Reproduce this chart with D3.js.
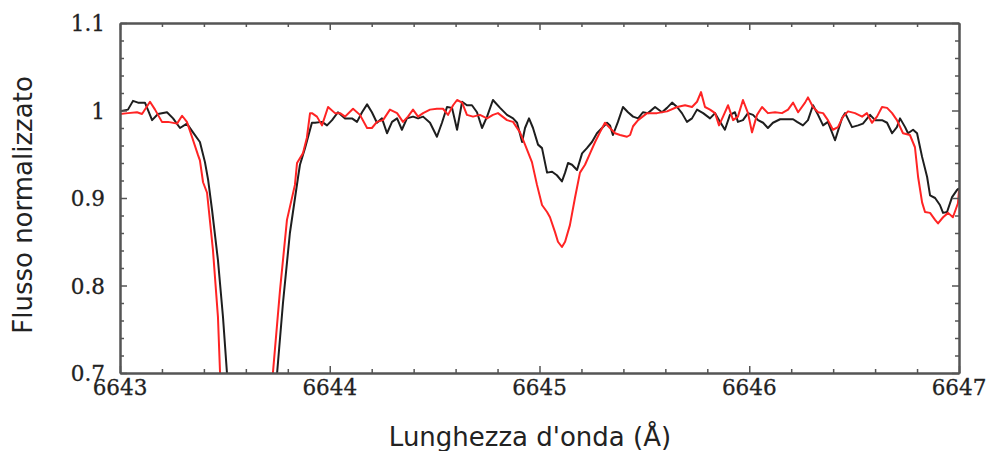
<!DOCTYPE html>
<html>
<head>
<meta charset="utf-8">
<script src="https://cdn.jsdelivr.net/npm/d3@7"></script>
<style>
  body { margin: 0; background: #fff; }
  svg { display: block; }
</style>
</head>
<body>
<svg id="chart" width="987" height="451"></svg>
<script>
// Normalised spectra around 6643-6647 Å: comparison spectrum (black) and target (red)
const blackWave = [
  6643.000,6643.038,6643.062,6643.086,6643.119,6643.153,6643.181,6643.224,6643.253,6643.286,
  6643.319,6643.348,6643.381,6643.405,6643.420,6643.439,6643.467,6643.491,6643.510,6643.540,
  6643.630,6643.720,6643.749,6643.777,6643.810,6643.849,6643.858,6643.882,6643.915,6643.930,
  6643.963,6643.987,6644.011,6644.039,6644.073,6644.106,6644.130,6644.154,6644.178,6644.201,
  6644.225,6644.249,6644.273,6644.297,6644.321,6644.344,6644.368,6644.397,6644.421,6644.445,
  6644.478,6644.511,6644.535,6644.559,6644.583,6644.607,6644.631,6644.654,6644.678,6644.702,
  6644.726,6644.750,6644.778,6644.812,6644.845,6644.874,6644.893,6644.917,6644.931,6644.950,
  6644.969,6644.993,6645.012,6645.036,6645.060,6645.083,6645.107,6645.122,6645.136,6645.155,
  6645.179,6645.203,6645.226,6645.250,6645.274,6645.298,6645.322,6645.336,6645.350,6645.374,
  6645.398,6645.422,6645.446,6645.470,6645.493,6645.517,6645.551,6645.584,6645.608,6645.632,
  6645.656,6645.679,6645.703,6645.727,6645.751,6645.780,6645.813,6645.837,6645.861,6645.884,
  6645.908,6645.932,6645.946,6645.970,6645.994,6646.018,6646.042,6646.066,6646.089,6646.113,
  6646.147,6646.180,6646.209,6646.228,6646.256,6646.280,6646.304,6646.328,6646.352,6646.375,
  6646.409,6646.442,6646.457,6646.490,6646.519,6646.542,6646.576,6646.600,6646.633,6646.657,
  6646.681,6646.704,6646.719,6646.743,6646.757,6646.781,6646.800,6646.824,6646.848,6646.862,
  6646.886,6646.909,6646.924,6646.943,6646.967,6646.990,6647.000
];
const blackFlux = [
  0.999,1.001,1.011,1.009,1.009,0.989,0.996,0.998,0.991,0.980,
  0.985,0.975,0.964,0.941,0.921,0.886,0.829,0.764,0.700,0.600,
  0.500,0.600,0.700,0.780,0.860,0.924,0.938,0.957,0.986,0.986,
  0.987,0.983,0.989,0.998,0.991,0.991,0.987,0.998,1.007,0.998,
  0.986,0.991,0.974,0.987,0.991,0.978,0.991,0.993,0.991,0.993,
  0.986,0.970,0.986,1.004,1.003,0.978,1.010,1.006,1.006,0.998,
  0.980,0.993,1.012,1.003,0.995,0.991,0.986,0.964,0.980,0.991,
  0.980,0.961,0.957,0.929,0.930,0.926,0.919,0.929,0.940,0.938,
  0.932,0.951,0.957,0.964,0.974,0.980,0.986,0.983,0.972,0.987,
  1.004,0.998,0.993,0.991,0.998,0.997,1.004,0.998,1.003,1.009,
  1.004,0.997,0.987,0.991,1.001,0.997,0.991,0.997,0.987,0.978,
  0.995,0.998,0.987,0.989,0.997,0.995,0.989,0.986,0.980,0.986,
  0.990,0.990,0.990,0.987,0.983,0.989,1.006,0.995,0.983,0.987,
  0.966,0.991,0.997,0.981,0.983,0.985,0.995,0.989,0.989,0.986,
  0.974,0.981,0.991,0.981,0.974,0.978,0.974,0.947,0.924,0.903,
  0.900,0.892,0.883,0.884,0.901,0.909,0.911
];
const redWave = [
  6643.000,6643.038,6643.081,6643.105,6643.143,6643.167,6643.200,6643.229,6643.272,6643.296,
  6643.319,6643.343,6643.372,6643.381,6643.396,6643.415,6643.443,6643.467,6643.477,6643.500,
  6643.600,6643.700,6643.729,6643.763,6643.796,6643.834,6643.844,6643.872,6643.891,6643.906,
  6643.915,6643.939,6643.963,6643.992,6644.025,6644.049,6644.073,6644.111,6644.144,6644.178,
  6644.201,6644.225,6644.254,6644.287,6644.321,6644.349,6644.373,6644.397,6644.421,6644.445,
  6644.478,6644.511,6644.540,6644.564,6644.588,6644.607,6644.631,6644.654,6644.683,6644.716,
  6644.750,6644.778,6644.802,6644.845,6644.874,6644.907,6644.931,6644.964,6644.988,6645.012,
  6645.036,6645.050,6645.074,6645.088,6645.107,6645.122,6645.145,6645.169,6645.193,6645.217,
  6645.241,6645.265,6645.288,6645.312,6645.336,6645.360,6645.384,6645.417,6645.432,6645.446,
  6645.470,6645.513,6645.560,6645.608,6645.656,6645.694,6645.727,6645.751,6645.770,6645.789,
  6645.813,6645.837,6645.856,6645.875,6645.899,6645.923,6645.946,6645.970,6645.994,6646.013,
  6646.037,6646.061,6646.089,6646.123,6646.156,6646.185,6646.209,6646.233,6646.266,6646.280,
  6646.304,6646.328,6646.352,6646.375,6646.399,6646.423,6646.447,6646.471,6646.504,6646.538,
  6646.561,6646.585,6646.609,6646.633,6646.657,6646.681,6646.704,6646.733,6646.766,6646.790,
  6646.805,6646.824,6646.838,6646.862,6646.886,6646.900,6646.924,6646.948,6646.971,6646.995,
  6647.000
];
const redFlux = [
  0.996,0.997,0.998,0.996,1.010,1.001,0.987,0.987,0.985,0.994,
  0.987,0.970,0.949,0.943,0.918,0.906,0.841,0.764,0.700,0.620,
  0.500,0.620,0.700,0.795,0.875,0.915,0.940,0.951,0.969,0.997,
  0.997,0.993,0.983,1.004,0.997,0.997,0.993,1.002,0.995,0.980,
  0.980,0.987,0.989,1.001,0.997,0.987,0.993,1.001,0.993,0.997,
  1.001,1.002,1.002,0.995,1.006,1.012,1.009,0.995,0.993,0.995,
  0.991,0.995,0.997,0.989,0.987,0.975,0.961,0.941,0.915,0.892,
  0.884,0.878,0.861,0.850,0.844,0.850,0.869,0.900,0.929,0.938,
  0.951,0.964,0.975,0.986,0.980,0.974,0.972,0.970,0.972,0.982,
  0.989,0.997,0.997,0.999,1.004,1.006,1.004,1.010,1.021,1.004,
  1.001,0.997,0.983,0.993,1.006,0.989,0.993,1.012,0.997,0.975,
  0.995,1.004,0.997,0.998,0.997,1.001,1.009,0.998,1.009,1.015,
  1.004,0.998,0.997,0.989,0.978,0.981,0.993,0.999,0.997,0.993,
  0.997,0.986,0.993,1.004,1.003,0.997,0.989,0.974,0.972,0.958,
  0.924,0.895,0.884,0.883,0.875,0.871,0.878,0.883,0.878,0.894,
  0.909
];

const xMajorTicks = [6643, 6644, 6645, 6646, 6647];
const xMinorTicks = [6643.2, 6643.4, 6643.6, 6643.8, 6644.2, 6644.4, 6644.6, 6644.8,
                     6645.2, 6645.4, 6645.6, 6645.8, 6646.2, 6646.4, 6646.6, 6646.8];
const yMajorTicks = [0.7, 0.8, 0.9, 1.0, 1.1];
const yMinorTicks = [0.72, 0.74, 0.76, 0.78, 0.82, 0.84, 0.86, 0.88, 0.92, 0.94, 0.96, 0.98,
                     1.02, 1.04, 1.06, 1.08];
const yTickLabels = ["0.7", "0.8", "0.9", "1", "1.1"];
const xTitle = "Lunghezza d'onda (Å)";
const yTitle = "Flusso normalizzato";

const margin = { left: 120, right: 28, top: 23, bottom: 78 };
const W = 987, H = 451;
const iw = W - margin.left - margin.right;
const ih = H - margin.top - margin.bottom;

const svg = d3.select("#chart");
const x = d3.scaleLinear().domain([6643, 6647]).range([0, iw]);
const y = d3.scaleLinear().domain([0.7, 1.1]).range([ih, 0]);

const g = svg.append("g").attr("transform", `translate(${margin.left},${margin.top})`);

g.append("clipPath").attr("id", "plotClip")
  .append("rect").attr("x", 0).attr("y", 0).attr("width", iw).attr("height", ih);

const line = d3.line().x(d => x(d[0])).y(d => y(d[1]));
const black = blackWave.map((w, i) => [w, blackFlux[i]]);
const red = redWave.map((w, i) => [w, redFlux[i]]);

const lines = g.append("g").attr("clip-path", "url(#plotClip)");
lines.append("path").datum(black).attr("d", line)
  .attr("fill", "none").attr("stroke", "#1e1e1e").attr("stroke-width", 2)
  .attr("stroke-linejoin", "round");
lines.append("path").datum(red).attr("d", line)
  .attr("fill", "none").attr("stroke", "#ff2424").attr("stroke-width", 2)
  .attr("stroke-linejoin", "round");

// Frame axes with inward ticks on all four sides
const axisColor = "#555";
function styleAxis(sel) {
  sel.select(".domain").attr("stroke", axisColor).attr("stroke-width", 2);
  sel.selectAll(".tick line").attr("stroke", axisColor).attr("stroke-width", 1.5);
  sel.selectAll(".tick text").remove();
}
function frameAxis(axisFn, scale, ticks, size, transform) {
  const a = g.append("g").attr("transform", transform)
    .call(axisFn(scale).tickValues(ticks).tickSizeInner(-size).tickSizeOuter(0));
  styleAxis(a);
  return a;
}
frameAxis(d3.axisBottom, x, xMajorTicks, 7, `translate(0,${ih})`);
frameAxis(d3.axisBottom, x, xMinorTicks, 4, `translate(0,${ih})`);
frameAxis(d3.axisTop, x, xMajorTicks, 7, `translate(0,0)`);
frameAxis(d3.axisTop, x, xMinorTicks, 4, `translate(0,0)`);
frameAxis(d3.axisLeft, y, yMajorTicks, 7, `translate(0,0)`);
frameAxis(d3.axisLeft, y, yMinorTicks, 4, `translate(0,0)`);
frameAxis(d3.axisRight, y, yMajorTicks, 7, `translate(${iw},0)`);
frameAxis(d3.axisRight, y, yMinorTicks, 4, `translate(${iw},0)`);

// Tick labels
const tickFont = "'DejaVu Serif', serif";
g.append("g").selectAll("text").data(xMajorTicks).join("text")
  .attr("x", d => x(d)).attr("y", ih + 22)
  .attr("text-anchor", "middle")
  .attr("font-family", tickFont).attr("font-size", 21.5).attr("fill", "#222")
  .attr("stroke", "#222").attr("stroke-width", 0.3)
  .text(d => d);
g.append("g").selectAll("text").data(yMajorTicks).join("text")
  .attr("x", -15).attr("y", d => y(d)).attr("dy", "0.38em")
  .attr("text-anchor", "end")
  .attr("font-family", tickFont).attr("font-size", 21.5).attr("fill", "#222")
  .attr("stroke", "#222").attr("stroke-width", 0.3)
  .text((d, i) => yTickLabels[i]);

// Axis titles
svg.append("text")
  .attr("x", 530).attr("y", 446)
  .attr("text-anchor", "middle")
  .attr("font-family", "'DejaVu Sans', sans-serif").attr("font-size", 26).attr("fill", "#222")
  .text(xTitle);
svg.append("text")
  .attr("transform", `translate(32,205) rotate(-90)`)
  .attr("text-anchor", "middle")
  .attr("font-family", "'DejaVu Sans', sans-serif").attr("font-size", 26).attr("fill", "#222")
  .text(yTitle);
</script>
</body>
</html>
